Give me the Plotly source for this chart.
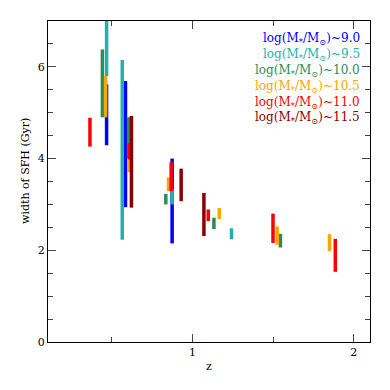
import plotly.graph_objects as go

# ── Datos: redshift y anchura de la SFH (Gyr) por masa ────────────────────────
MASAS = ["9.0", "9.5", "10.0", "10.5", "11.0", "11.5"]
COLORES = ["#0000FF", "#20B2AA", "#2E8B57", "#FFA500", "#FF0000", "#8B0000"]

z_90 = [0.468, 0.585, 0.874]
lo_90 = [4.29, 2.94, 2.15]
hi_90 = [5.62, 5.69, 4.00]

z_95 = [0.468, 0.565, 0.874, 1.242]
lo_95 = [5.80, 2.23, 3.00, 2.24]
hi_95 = [7.30, 6.15, 3.33, 2.48]

z_100 = [0.442, 0.604, 0.835, 1.133, 1.545]
lo_100 = [4.90, 4.00, 3.00, 2.46, 2.06]
hi_100 = [6.38, 4.90, 3.23, 2.71, 2.36]

z_105 = [0.462, 0.606, 0.852, 1.166, 1.525, 1.849]
lo_105 = [4.90, 3.70, 3.29, 2.68, 2.12, 1.98]
hi_105 = [5.80, 4.00, 3.59, 2.92, 2.52, 2.35]

z_110 = [0.365, 0.609, 0.868, 1.098, 1.499, 1.885]
lo_110 = [4.26, 3.98, 3.29, 2.64, 2.16, 1.53]
hi_110 = [4.89, 4.33, 3.92, 2.89, 2.80, 2.25]

z_115 = [0.622, 0.930, 1.071]
lo_115 = [2.93, 3.07, 2.31]
hi_115 = [4.93, 3.78, 3.25]

SERIES = [
    (z_90, lo_90, hi_90),
    (z_95, lo_95, hi_95),
    (z_100, lo_100, hi_100),
    (z_105, lo_105, hi_105),
    (z_110, lo_110, hi_110),
    (z_115, lo_115, hi_115),
]

FUENTE = "DejaVu Serif"

fig = go.Figure()

for (zs, los, his), color in zip(SERIES, COLORES):
    xs, ys = [], []
    for z, lo, hi in zip(zs, los, his):
        xs += [z, z, None]
        ys += [lo, hi, None]
    fig.add_trace(go.Scatter(
        x=xs, y=ys, mode="lines",
        line=dict(color=color, width=3.5),
        showlegend=False, hoverinfo="skip",
    ))

# Leyenda como texto coloreado
for i, (m, color) in enumerate(zip(MASAS, COLORES)):
    fig.add_annotation(
        x=0.975, y=0.944 - i * 0.0495, xref="paper", yref="paper",
        xanchor="right", yanchor="middle", showarrow=False,
        text=f"log(M<sub>*</sub>/M<sub>⊙</sub>)~{m}",
        font=dict(family=FUENTE, size=12, color=color),
    )

# título del eje y (algo por encima del centro, como en el original)
fig.add_annotation(
    x=-0.068, y=0.533, xref="paper", yref="paper",
    xanchor="center", yanchor="middle", showarrow=False, textangle=-90,
    text="width of SFH (Gyr)",
    font=dict(family=FUENTE, size=11, color="black"),
)

eje = dict(
    showline=True, linecolor="black", linewidth=1, mirror="allticks",
    ticks="inside", ticklen=8, tickcolor="#444", showgrid=False, zeroline=False,
    automargin=False,
    tickfont=dict(family=FUENTE, size=11, color="black"),
)

# la página añade 8 px de margen al cuerpo
fig.update_layout(
    width=382, height=382,
    margin=dict(l=40, r=20, t=13, b=48),
    plot_bgcolor="white", paper_bgcolor="white",
    xaxis=dict(
        **eje, range=[0.105, 2.1], tickvals=[1, 2],
        minor=dict(tickvals=[0.5, 1.5], ticks="inside", ticklen=5, tickcolor="#444"),
        title=dict(text="z", font=dict(family=FUENTE, size=11, color="black"), standoff=4),
    ),
    yaxis=dict(
        **eje, range=[0, 7], tickvals=[0, 2, 4, 6],
        minor=dict(dtick=0.5, ticks="inside", ticklen=5, tickcolor="#444"),
    ),
)

fig.write_html("out.html")
